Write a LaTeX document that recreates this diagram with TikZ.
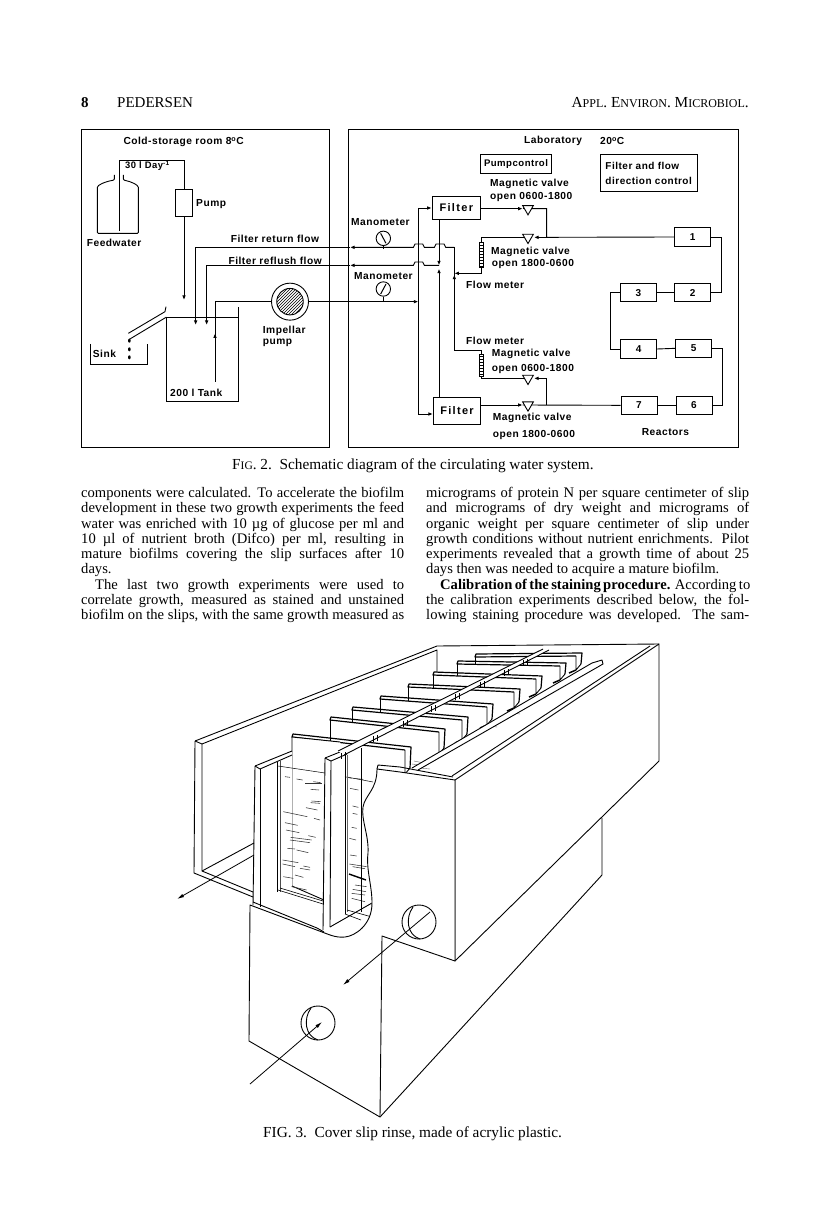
\documentclass[tikz,border=0pt]{standalone}
\usepackage{fontspec}
\setmainfont{Liberation Serif}
\newfontfamily\lab[LetterSpace=5]{Liberation Sans}
\newfontfamily\labwide[LetterSpace=12]{Liberation Sans}
\usetikzlibrary{arrows.meta,shapes.geometric,patterns,backgrounds,calc}
\newcommand\jl[1]{\makebox[323pt][s]{#1}\\}
\newcommand\slideplate[5]{%
  \fill[white] (#1,#2) -- (#3-6,#4+2) -- (#3-6,#4+#5+5) -- (#1,#2+#5+3) -- cycle;
  \draw[tk] (#1,#2+#5+3) -- (#1,#2);
  \draw[tk] (#3-1,#4+#5-2) -- (#3-6,#4+#5+4) -- (#3-6,#4+2);
  \draw[line width=1.2pt,line join=round] (#3-6,#4+2) -- (#1,#2) -- (#1+1,#2-3) -- (#3,#4-1) -- (#3-1,#4+#5-2);
  \draw[line width=1.5pt] (#3-6,#4+#5+4) -- (#3-13,#4+#5+7);}
\newcommand\rodclamp[2]{\draw[thin3] (#1-2,#2-1) -- (#1-2,#2+5) (#1+2,#2-2) -- (#1+2,#2+4);}
\tikzset{
  wire/.style={line width=.9pt},
  flow/.style={line width=.9pt,-{Latex[length=4.5pt,width=3.6pt]}},
  boxn/.style={draw,line width=.9pt,inner sep=0pt,minimum width=#1},
  lab/.style={font=\lab\bfseries\fontsize{10.2}{11}\selectfont,inner sep=0pt,anchor=west},
  filtertext/.style={font=\labwide\bfseries\fontsize{11}{12}\selectfont},
  valve/.style={draw,fill=white,line width=.9pt,regular polygon,regular polygon sides=3,shape border rotate=180,inner sep=0pt,minimum size=12.4pt},
  gauge/.style={draw,fill=white,circle,line width=.9pt,inner sep=0pt,minimum size=14.4pt},
  meter/.style={draw,line width=.9pt,inner sep=0pt,minimum width=4pt,pattern=horizontal lines},
  lz/.style={shift={(70pt,-120pt)},x=0.33333pt,y=-0.33333pt},
  rz/.style={shift={(340pt,-120pt)},x=0.33333pt,y=-0.33333pt},
  tk/.style={line width=.9pt,line join=round},
  thin3/.style={line width=.6pt},
  dash3/.style={line width=.55pt,black!80},
  bigtip/.style={line width=.8pt,-{Latex[length=7pt,width=3.6pt]}},
  body/.style={font=\fontsize{14.6}{15.3}\selectfont,inner sep=0pt,anchor=north west,align=left},
  serifline/.style={inner sep=0pt,font=\fontsize{15}{16}\selectfont},
  capline/.style={inner sep=0pt,font=\fontsize{15.3}{16}\selectfont},
}
\begin{document}
\begin{tikzpicture}[x=1pt,y=-1pt]
\useasboundingbox (0,0) rectangle (816,1206);
\begin{scope}[on background layer]
  \fill[white] (0,0) rectangle (816,1206);
\end{scope}

% Page header and running text
\node[serifline,anchor=base west] (pageno) at (81,108) {\textbf{8}};
\node[serifline,anchor=base west] (author) at (117,108) {PEDERSEN};
\node[capline,anchor=base east] (journal) at (749,108) {A{\fontsize{12}{12}\selectfont PPL}. E{\fontsize{12}{12}\selectfont NVIRON}. M{\fontsize{12}{12}\selectfont ICROBIOL}.};
\node[capline,anchor=base west] (captwo) at (232,469) {F{\fontsize{11.5}{12}\selectfont IG}. 2.\ \ Schematic diagram of the circulating water system.};
\node[capline,anchor=base west] (capthree) at (263,1137) {FIG. 3.\ \ Cover slip rinse, made of acrylic plastic.};

\node[body] (colone) at (81,487) {%
\jl{components were calculated. To accelerate the biofilm}
\jl{development in these two growth experiments the feed}
\jl{water was enriched with 10 µg of glucose per ml and}
\jl{10 µl of nutrient broth (Difco) per ml, resulting in}
\jl{mature biofilms covering the slip surfaces after 10}
days.\\
\jl{\hspace{14pt}The last two growth experiments were used to}
\jl{correlate growth, measured as stained and unstained}
\jl{biofilm on the slips, with the same growth measured as}};
\node[body] (coltwo) at (426,487) {%
\jl{micrograms of protein N per square centimeter of slip}
\jl{and micrograms of dry weight and micrograms of}
\jl{organic weight per square centimeter of slip under}
\jl{growth conditions without nutrient enrichments. Pilot}
\jl{experiments revealed that a growth time of about 25}
days then was needed to acquire a mature biofilm.\\
\jl{\hspace{14pt}\textbf{Calibration of the staining procedure.} According to}
\jl{the calibration experiments described below, the fol-}
\jl{lowing staining procedure was developed. The sam-}};

% ---- Circulating water system: cold-storage room ----
\begin{scope}[lz]
  \node[draw,line width=1.1pt,inner sep=0pt,minimum width=248pt,minimum height=317.5pt] (coldroom) at (407,505) {};
  \node[lab] (coldlabel) at (160,66) {Cold-storage room 8\textsuperscript{o}C};
  \node[lab,font=\lab\bfseries\fontsize{9.4}{10}\selectfont] (rate) at (165,137) {30 l Day\textsuperscript{-1}};
  \node[boxn=17.3pt,minimum height=26.6pt] (pump) at (342,248) {};
  \node[lab] (pumplabel) at (378,252) {Pump};
  \node[lab] (feedlabel) at (50,370) {Feedwater};
  \node[lab] (returnlabel) at (482,357) {Filter return flow};
  \node[lab] (reflushlabel) at (475,422) {Filter reflush flow};
  \node[lab,align=left,font=\lab\bfseries\fontsize{10.2}{11}\selectfont] (implabel) at (578,648) {Impellar\\pump};
  \node[lab] (sinklabel) at (68,702) {Sink};
  \node[lab] (tanklabel) at (300,818) {200 l Tank};
  \node[draw,fill=white,circle,line width=.9pt,inner sep=0pt,minimum size=37pt] (impeller) at (660,545) {};
  \node[draw,circle,line width=.9pt,inner sep=0pt,minimum size=26.5pt,pattern=north east lines] (rotor) at (660,545) {};

  % feed bottle, tank, overflow and sink
  \draw[wire,rounded corners=1pt] (133,165) -- (133,180) .. controls (105,185) and (82,195) .. (82,205) -- (82,340) -- (205,340) -- (205,205) .. controls (205,195) and (185,185) .. (160,180) -- (160,165);
  \draw[wire] (288,590) -- (288,845) -- (505,845) -- (505,560);
  \draw[line width=1.3pt] (288,592) -- (505,592);
  \draw[wire] (175,640) -- (285,575) -- (288,560);
  \draw[wire] (178,658) -- (288,592);
  \draw[wire] (60,672) -- (60,732) -- (232,732) -- (232,672);
  \foreach \dy in {662,688,712} \fill (178,\dy) ellipse [x radius=4,y radius=6];

  \coordinate (feedin) at (147,333);
  \coordinate (feedtop) at (342,120);
  \coordinate (feeddrop) at (342,540);
  \coordinate (returndrop) at (377,615);
  \coordinate (reflushdrop) at (410,615);
  \coordinate (tankpipe) at (435,545);
  \coordinate (tanktip) at (435,640);
  \coordinate (tankfoot) at (435,785);
\end{scope}

% ---- Circulating water system: laboratory ----
\begin{scope}[rz]
  \node[draw,line width=1.1pt,inner sep=0pt,minimum width=390pt,minimum height=317.5pt] (labroom) at (610,505) {};
  \node[lab] (lablabel) at (552,63) {Laboratory};
  \node[lab] (templabel) at (780,63) {20\textsuperscript{o}C};
  \node[boxn=71.7pt,minimum height=19pt] (pumpctl) at (528,131) {\lab\bfseries\fontsize{9.6}{10}\selectfont Pumpcontrol};
  \node[boxn=97.3pt,minimum height=37.3pt,align=left,font=\lab\bfseries\fontsize{10}{15}\selectfont] (filterctl) at (926,159) {Filter and flow\\direction control};

  \node[boxn=48.3pt,minimum height=23.3pt,filtertext] (filtera) at (349,264) {Filter};
  \node[boxn=47.3pt,minimum height=27.7pt,filtertext] (filterb) at (351,873) {Filter};

  \node[valve] (vb) at (564,266) {};
  \node[valve] (va) at (564,352) {};
  \node[valve] (vc) at (564,775) {};
  \node[valve] (vd) at (564,855) {};
  \node[meter,minimum height=24.7pt] (fma) at (424,405) {};
  \node[meter,minimum height=21.7pt] (fmb) at (424,737) {};
  \node[gauge] (gaugea) at (130,355) {};
  \node[gauge] (gaugeb) at (130,507) {};
  \draw[line width=1pt] (122,340) -- (138,370);
  \draw[line width=1pt] (122,522) -- (138,492);

  \node[lab] (mva) at (450,193) {Magnetic valve};
  \node[lab] (mvat) at (450,232) {open 0600-1800};
  \node[lab] (mga) at (33,305) {Manometer};
  \node[lab] (mvb) at (453,395) {Magnetic valve};
  \node[lab] (mvbt) at (455,433) {open 1800-0600};
  \node[lab] (mgb) at (42,467) {Manometer};
  \node[lab] (fmla) at (378,495) {Flow meter};
  \node[lab] (fmlb) at (378,662) {Flow meter};
  \node[lab] (mvc) at (455,702) {Magnetic valve};
  \node[lab] (mvct) at (455,746) {open 0600-1800};
  \node[lab] (mvd) at (458,895) {Magnetic valve};
  \node[lab] (mvdt) at (458,945) {open 1800-0600};
  \node[lab] (reactlabel) at (905,935) {Reactors};

  \foreach \nm/\tx/\cx/\cy in {ra/1/1058/351,rb/2/1058/518,rc/3/895/518,rd/4/896/687,re/5/1061/685,rf/6/1062/856,rg/7/897/856}
    \node[boxn=36pt,minimum height=18.3pt,font=\lab\bfseries\fontsize{10}{11}\selectfont] (\nm) at (\cx,\cy) {\tx};

  \coordinate (retbend) at (343,382);
  \coordinate (rettip) at (30,382);
  \coordinate (fluend) at (297,436);
  \coordinate (flutip) at (30,436);
  \coordinate (bustop) at (235,264);
  \coordinate (buslow) at (235,882);
  \coordinate (bustip) at (235,545);
  \coordinate (xtop) at (297,299);
  \coordinate (xbot) at (297,832);
  \coordinate (xdown) at (297,436);
  \coordinate (xup) at (297,446);
  \coordinate (upbend) at (343,690);
  \coordinate (uptip) at (343,464);
  \coordinate (fmbridge) at (343,460);
  \coordinate (ja) at (620,352);
  \coordinate (jb) at (620,266);
  \coordinate (jc) at (620,775);
  \coordinate (jd) at (620,855);
  \coordinate (tipa) at (582,352);
  \coordinate (tipb) at (548,266);
  \coordinate (tipc) at (582,775);
  \coordinate (tipd) at (548,855);
  \coordinate (faout) at (422,266);
  \coordinate (fbout) at (422,855);
\end{scope}

% Pipework runs under the valves, gauges and pumps
\begin{scope}[on background layer]
  \begin{scope}[rz]
  \draw[wire] (feedin) |- (feedtop) -- (pump.north);
  \draw[flow] (pump.south) -- (feeddrop);
  \draw[flow] (retbend) -- ++(-26,0) -- ++(-5,-10) -- ++(-24,0) -- ++(-5,10) -- ++(-30,0) -- ++(-5,-10) -- ++(-23,0) -- ++(-5,10) -- (rettip);
  \draw[flow] (rettip) -| (returndrop);
  \draw[flow] (fluend) -- ++(-44,0) -- ++(-5,-10) -- ++(-23,0) -- ++(-5,10) -- (flutip);
  \draw[flow] (flutip) -| (reflushdrop);
  \draw[wire] (impeller.west) -| (tankfoot);
  \draw[flow] (tankfoot) -- (tanktip);
  \draw[flow] (impeller.east) -- (bustip);
  \draw[wire] (gaugea.south) -- ++(0,8);
  \draw[wire] (gaugeb.south) -- ++(0,16);
  \draw[wire] (bustop) -- (buslow);
  \draw[flow] (bustop) -- (filtera.west);
  \draw[flow] (buslow) -- (filterb.west |- buslow);
  \draw[flow] (xtop) -- (xdown);
  \draw[flow] (xbot) -- (xup);
  \draw[wire] (upbend) -- (retbend);
  \draw[flow] (upbend) -- (uptip);
  \draw[wire] (fmb.north) |- (upbend);
  \draw[wire] (fmb.south) |- (vc.center);
  \draw[flow] (jc) -- (tipc);
  \draw[wire] (jc) -- (jd);
  \draw[flow] (fbout) -- (tipd);
  \draw[wire] (tipd) -- (rg.west);
  \draw[wire] (fma.north) |- (va.center);
  \draw[flow] (ja) -- (tipa);
  \draw[wire] (ra.west) -- (ja) -- (jb) -- (vb.center);
  \draw[flow] (faout) -- (tipb);
  \draw[wire] (tipb) -- (vb.center);
  \draw[flow] (fma.south) |- (fmbridge);
  \draw[wire] (ra.east) -- ++(30,0) |- (rb.east);
  \draw[wire] (rb.west) -- (rc.east);
  \draw[wire] (rc.west) -- ++(-27,0) |- (rd.west);
  \draw[wire] (rd.east) -- (re.west);
  \draw[wire] (re.east) -- ++(30,0) |- (rf.east);
  \draw[wire] (rf.west) -- (rg.east);
  \end{scope}
\end{scope}

% ---- Cover slip rinse ----
% back wall and left end panel
\draw[tk] (195,741) -- (437,646) -- (659,644);
\draw[tk] (202,744) -- (437,650) -- (437,672);
\draw[tk] (195,741) -- (202,744);
\draw[tk] (195,741) -- (194,873) -- (253,897);
\draw[tk] (202,744) -- (202,871) -- (253,892);
\draw[tk] (202,871) -- (254,843);
\draw[bigtip] (254,855) -- (177,899);

% slide plates, far to near
\slideplate{475}{657}{582}{654}{12}
\slideplate{457}{664}{566}{664}{12}
\slideplate{433}{675}{542}{677}{13}
\slideplate{408}{687}{520}{690}{14}
\slideplate{380}{699}{493}{705}{16}
\slideplate{352}{710}{468}{718}{18}
\slideplate{330}{720}{445}{730}{20}
\slideplate{292}{737}{411}{748}{22}
\fill[white] (292,737) -- (340,742) -- (340,905) -- (292,886) -- cycle;
\draw[tk] (292,737) -- (292,886) -- (324,900);
\draw[tk] (292,737) -- (340,742);

% left compartment wall and glass
\fill[white] (255,767) -- (292,752) -- (292,886) -- (255,900) -- cycle;
\draw[tk] (255,766) -- (292,751);
\draw[tk] (260,769) -- (292,755);
\draw[tk] (255,766) -- (253,905);
\draw[tk] (260,769) -- (260,907);
\draw[tk] (255,766) -- (260,769);
\draw[thin3] (277,762) -- (277,892);
\draw[line width=.9pt,black!70] (280,761) -- (280,892);
\draw[line width=.5pt] (278,766) -- (325,773);
\draw[thin3] (278,890) -- (323,904);
\draw[thin3] (280,888) -- (323,901);
\draw[line width=.5pt] (347,777) -- (373,782);

% water marks on the slides
\foreach \xa/\ya/\xb/\yb in {
  345/410/360/412,380/417/398/420,405/430/455/430,430/425/452/428,422/448/447/450,425/483/452/485,
  422/488/450/490,408/503/442/510,340/515/412/530,432/535/450/540,345/548/383/556,348/570/388/578,
  415/587/437/592,362/592/425/600,360/600/420/608,352/625/375/627,380/630/415/638,338/660/385/668,
  338/672/375/680,400/678/420/682,390/685/420/690,340/710/370/715,375/705/400/712,365/740/410/750,
  525/410/545/415,550/415/580/418,540/445/565/450,548/498/565/502,548/520/562/523,545/562/560/565,
  538/595/558/600,540/645/560/648,538/672/590/680,548/680/585/686,555/735/590/740,548/748/588/755,
  545/760/585/765,545/775/585/785}
  \draw[dash3] (170+\xa/3,640+\ya/3) -- (170+\xb/3,640+\yb/3);
\draw[line width=1.4pt] (349,874) -- (366,880);
\foreach \xa/\ya/\xb/\yb in {412/764/426/766,414/761/424/763,420/768/430/769,489/726/497/727,512/713/520/714,538/697/546/698,560/683/566/684}
  \draw[line width=.4pt,black!60] (\xa,\ya) -- (\xb,\yb);

% second compartment wall, inner glass and floor
\draw[thin3] (345,755) -- (345,914);
\draw[line width=.9pt,black!60] (347,755) -- (347,912);
\draw[tk] (361,748) -- (361,912);
\draw[thin3] (345,914) -- (361,920);
\draw[thin3] (347,910) -- (372,917);
\fill[white] (325,758) -- (331,761) -- (330,927) -- (323,930) -- cycle;
\draw[tk] (325,758) -- (323,930);
\draw[tk] (331,761) -- (330,927);
\draw[tk] (325,758) -- (331,761);
\draw[tk] (325,758) -- (345,750);
\draw[tk] (331,761) -- (347,754);
\draw[tk] (330,927) -- (372,903);

% rail on the right hand side
\fill[white] (412,768) -- (592,663) -- (602,660) -- (603,664) -- (418,770) -- cycle;
\draw[tk] (412,768) -- (592,663) -- (602,660) -- (603,664) -- (418,770);

% rod with its clamps
\fill[white] (338,751) -- (543,649) -- (549,650) -- (344,755) -- cycle;
\draw[tk] (338,751) -- (543,649);
\draw[tk] (344,755) -- (549,650);
\rodclamp{343}{754}\rodclamp{375}{737}\rodclamp{405}{722}\rodclamp{433}{707}
\rodclamp{457}{695}\rodclamp{482}{683}\rodclamp{506}{671}\rodclamp{525}{661}

% right side of the box, foot and front wall with its cut-away
\filldraw[fill=white,tk] (455,780) -- (659,644) -- (659,761) -- (455,961) -- cycle;
\draw[tk] (452,776) -- (650,646);
\draw[tk] (602,818) -- (602,875) -- (380,1117);
\filldraw[fill=white,tk] (250,905) -- (322,932) .. controls (328,934) and (335,938) .. (345,937)
  .. controls (355,936) and (372,925) .. (372,903) .. controls (372,885) and (366,870) .. (368,853)
  .. controls (369,835) and (361,820) .. (363,807) .. controls (365,795) and (377,790) .. (377,769)
  -- (400,772) -- (455,780) -- (455,961) -- (382,936) -- (380,1117) -- (249,1041) -- cycle;
\draw[tk] (253,902) -- (317,928) -- (324,932);
\draw[tk] (377,769) -- (378,765) -- (400,767) -- (453,777);

% inlet and outlet ports
\draw[tk] (419,922) circle [radius=17];
\draw[tk] (413,907) .. controls (405,918) and (407,935) .. (420,939);
\draw[bigtip] (430,912) -- (343,985);
\draw[tk] (318,1023) circle [radius=17];
\draw[tk] (311,1008) .. controls (303,1019) and (305,1036) .. (318,1040);
\draw[bigtip] (250,1084) -- (322,1022);
\end{tikzpicture}
\end{document}
